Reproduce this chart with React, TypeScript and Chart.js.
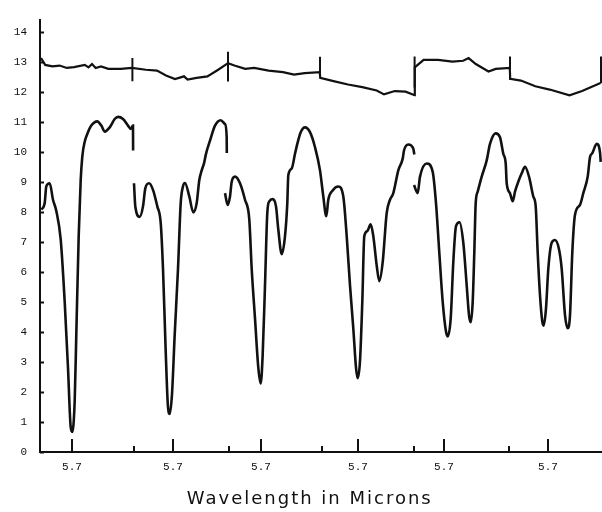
import React, { useEffect, useRef } from "react";
import { Chart, registerables } from "chart.js";

Chart.register(...registerables);

// ---- data (x in arbitrary horizontal units along the recording) ----
const yTickValues = [0, 1, 2, 3, 4, 5, 6, 7, 8, 9, 10, 11, 12, 13, 14];
const xLabelPositions = [32, 133, 221, 318, 404, 508];
const xTickLabels = ["5.7", "5.7", "5.7", "5.7", "5.7", "5.7"];
const panelBoundaries = [94, 189, 282, 374, 469];
const xTitle = "Wavelength in Microns";

// upper (reference) trace
const topX = [1, 5.2, 12.4, 19.6, 26.8, 34, 44.8, 48.5, 52, 55.7, 61, 68.3, 80.9, 91.7,
  106, 117, 126, 135, 144, 147.6, 156.6, 167.4, 178.2, 188,
  194.4, 205.2, 214.2, 228.6, 243, 254, 264.7, 279.8,
  280.2, 293.5, 308, 322.3, 336.7, 344, 354.8, 365.6, 374.6,
  374.8, 383.6, 398, 412.4, 423.2, 428.6, 435.8, 448.5, 455.7, 469.8,
  470.2, 480.9, 495.3, 509.7, 529.5, 542.1, 553, 560.5];
const topY = [13.12, 12.89, 12.84, 12.87, 12.79, 12.82, 12.89, 12.81, 12.92, 12.79, 12.84, 12.76, 12.76, 12.79,
  12.73, 12.70, 12.54, 12.42, 12.51, 12.40, 12.46, 12.51, 12.73, 12.95,
  12.87, 12.76, 12.79, 12.70, 12.65, 12.57, 12.62, 12.65,
  12.46, 12.35, 12.24, 12.15, 12.04, 11.91, 12.02, 12.0, 11.88,
  12.81, 13.06, 13.06, 13.0, 13.03, 13.12, 12.92, 12.67, 12.76, 12.79,
  12.43, 12.37, 12.18, 12.07, 11.88, 12.02, 12.18, 12.29];

// vertical marks on the upper trace at the panel joins
const markerX = [92.4, 188, 280, 374.6, 470, 561];
const markerTop = [13.12, 13.33, 13.16, 13.17, 13.17, 13.17];
const markerBottom = [12.35, 12.34, 12.5, 12.14, 12.4, 12.28];

// lower (sample) trace; null = pen break between panels
const lowX = [1.3, 4.7, 6.3, 9.7, 13, 16.3, 20.7, 24.7, 28, 30.7, 32.3, 34.7, 36.3, 38.7, 40.7, 42.3, 44.7, 47.3,
  51.3, 57.3, 61.3, 64.7, 69.7, 74.7, 78, 83, 88, 90.7, 93, 93.1, 93.5,
  94, 95.3, 99.7, 103, 105.3, 109, 113, 117.3, 120.7, 123, 125.7, 128, 129.7, 132, 134.7, 138, 140.7, 143,
  145, 149.3, 153.3, 156.7, 159.3, 161.7, 164, 166, 170, 175, 180.7, 185, 186.7, 186.8, 186.9,
  185, 187.7, 190, 191.7, 195, 200, 205, 209.3, 211.7, 215, 218.3, 220.7, 222.7, 225, 227.3, 229.3, 232.7,
  236, 238.3, 241.7, 245, 247.3, 248.3, 251.7, 255, 257.3, 260.7, 265, 270, 275, 280, 283.3, 286.3, 288.3,
  292.7, 298.3, 303.3, 306.7, 310, 313.3, 316, 317.7, 320, 322.3, 324.3, 327.3, 330.7, 333.3, 336.7, 339.3,
  342.7, 346.7, 350, 353.3, 358.3, 362.7, 364, 368.3, 373.3, 374.3, 374.4,
  374, 377.7, 380, 386.7, 392.7, 396, 399.3, 402.7, 406, 407.7, 410.7, 413.3, 416, 419.5, 423.3, 426.7,
  429, 430.7, 432.7, 434.3, 435.7, 437.7, 441.7, 446.7, 450, 455.7, 460, 463.3, 465.7, 466.7, 470, 472.7,
  475, 478.3, 481.7, 485, 489, 493.3, 495.7, 497.7, 500, 502.3, 503.7, 506, 508.3, 511.7, 515, 519, 521.7,
  525, 527.7, 530, 532.3, 535, 540, 543.3, 547.7, 550, 552.3, 556.7, 560, 560.7];
const lowY = [8.07, 8.29, 8.85, 8.95, 8.40, 8.03, 7.08, 5.0, 2.80, 0.83, 0.67, 1.71, 3.91, 7.2, 9.06, 9.84, 10.33, 10.59,
  10.87, 11.01, 10.87, 10.67, 10.81, 11.09, 11.16, 11.09, 10.87, 10.76, 10.87, 10.04, null,
  8.95, 8.18, 7.83, 8.18, 8.78, 8.95, 8.73, 8.18, 7.63, 6.10, 3.36, 1.49, 1.27, 1.93, 3.91, 6.10, 8.29, 8.85,
  8.96, 8.51, 7.98, 8.29, 9.06, 9.38, 9.61, 9.93, 10.37, 10.87, 11.05, 10.92, 10.48, 9.96, null,
  8.62, 8.23, 8.51, 9.0, 9.17, 8.95, 8.40, 7.74, 6.10, 4.45, 2.81, 2.28, 3.25, 5.55, 7.96, 8.35, 8.42,
  8.18, 7.41, 6.59, 7.19, 8.29, 9.22, 9.44, 9.93, 10.26, 10.65, 10.81, 10.65, 10.15, 9.38, 8.51, 7.85, 8.40,
  8.71, 8.84, 8.51, 7.19, 5.55, 4.12, 2.81, 2.46, 3.03, 5.0, 7.19, 7.36, 7.58, 7.19, 6.21, 5.69,
  6.32, 7.96, 8.40, 8.62, 9.38, 9.77, 10.04, 10.24, 10.10, 9.91, null,
  8.89, 8.62, 9.17, 9.61, 9.33, 8.29, 6.64, 5.0, 4.01, 3.85, 4.45, 6.32, 7.52, 7.65, 6.97, 5.55,
  4.56, 4.32, 5.0, 6.64, 8.29, 8.67, 9.17, 9.71, 10.26, 10.61, 10.48, 9.93, 9.61, 8.95, 8.62, 8.35,
  8.67, 9.0, 9.28, 9.50, 9.17, 8.51, 8.18, 6.64, 5.22, 4.34, 4.21, 4.78, 6.10, 6.97, 7.06, 6.75, 6.10,
  4.56, 4.12, 4.56, 6.64, 7.90, 8.23, 8.62, 9.17, 9.82, 9.95, 10.26, 9.98, 9.66];

const INK = "#111111";

const axisDecor = {
  id: "axisDecor",
  afterDraw(chart: any) {
    const { ctx, chartArea, scales } = chart;
    const x = scales.x;
    const y = scales.y;
    ctx.save();
    ctx.strokeStyle = INK;
    ctx.lineWidth = 2;
    ctx.beginPath();
    yTickValues.forEach((v) => {
      const py = Math.round(y.getPixelForValue(v)) + 0.5;
      ctx.moveTo(chartArea.left, py);
      ctx.lineTo(chartArea.left + 4, py);
    });
    xLabelPositions.forEach((v) => {
      const px = Math.round(x.getPixelForValue(v));
      ctx.moveTo(px, chartArea.bottom);
      ctx.lineTo(px, chartArea.bottom - 13);
    });
    panelBoundaries.forEach((v) => {
      const px = Math.round(x.getPixelForValue(v));
      ctx.moveTo(px, chartArea.bottom);
      ctx.lineTo(px, chartArea.bottom - 6);
    });
    ctx.stroke();
    ctx.fillStyle = INK;
    ctx.font = '18px "DejaVu Sans"';
    (ctx as any).letterSpacing = "2px";
    ctx.textAlign = "center";
    ctx.textBaseline = "alphabetic";
    ctx.fillText(xTitle, chartArea.left + (chartArea.right - chartArea.left) * 0.48, chartArea.bottom + 52);
    ctx.restore();
  },
};

export default function App() {
  const ref = useRef<HTMLCanvasElement>(null);
  useEffect(() => {
    document.body.style.margin = "0";
    const topData = topX.map((xv, i) => ({ x: xv, y: topY[i] }));
    const lowData = lowX.map((xv, i) => ({ x: xv, y: lowY[i] }));
    const markerData: any[] = [];
    markerX.forEach((xv, i) => {
      markerData.push({ x: xv, y: markerTop[i] });
      markerData.push({ x: xv, y: markerBottom[i] });
      markerData.push({ x: xv, y: null });
    });
    const chart = new Chart(ref.current!, {
      type: "line",
      data: {
        datasets: [
          { label: "reference", data: topData, borderColor: INK, borderWidth: 2.2, pointRadius: 0, tension: 0, spanGaps: false },
          { label: "marks", data: markerData, borderColor: INK, borderWidth: 2, pointRadius: 0, tension: 0, spanGaps: false },
          { label: "sample", data: lowData, borderColor: INK, borderWidth: 2.6, pointRadius: 0, cubicInterpolationMode: "monotone", spanGaps: false },
        ],
      },
      options: {
        responsive: false,
        animation: false,
        layout: { padding: { top: 13, right: 0, left: 0, bottom: 0 } },
        plugins: { legend: { display: false }, tooltip: { enabled: false } },
        scales: {
          x: {
            type: "linear",
            min: 0,
            max: 562,
            afterFit: (s: any) => { s.height = 60; },
            afterBuildTicks: (s: any) => { s.ticks = xLabelPositions.map((v) => ({ value: v })); },
            grid: { display: false, drawTicks: false },
            border: { display: true, color: INK, width: 2 },
            ticks: {
              autoSkip: false,
              maxRotation: 0,
              padding: 8,
              color: INK,
              font: { family: '"Liberation Mono"', size: 11 },
              callback: (_v: any, i: number) => xTickLabels[i],
            },
          },
          y: {
            min: 0,
            max: 14.4,
            afterFit: (s: any) => { s.width = 40; },
            afterBuildTicks: (s: any) => { s.ticks = yTickValues.map((v) => ({ value: v })); },
            grid: { display: false, drawTicks: false },
            border: { display: true, color: INK, width: 2 },
            ticks: {
              padding: 13,
              color: INK,
              font: { family: '"Liberation Mono"', size: 11 },
              callback: (v: any) => String(v),
            },
          },
        },
      },
      plugins: [axisDecor],
    });
    return () => chart.destroy();
  }, []);
  return (
    <div style={{ position: "absolute", left: 0, top: 0, width: 602, height: 512, background: "#fff" }}>
      <canvas ref={ref} width={602} height={512} />
    </div>
  );
}
